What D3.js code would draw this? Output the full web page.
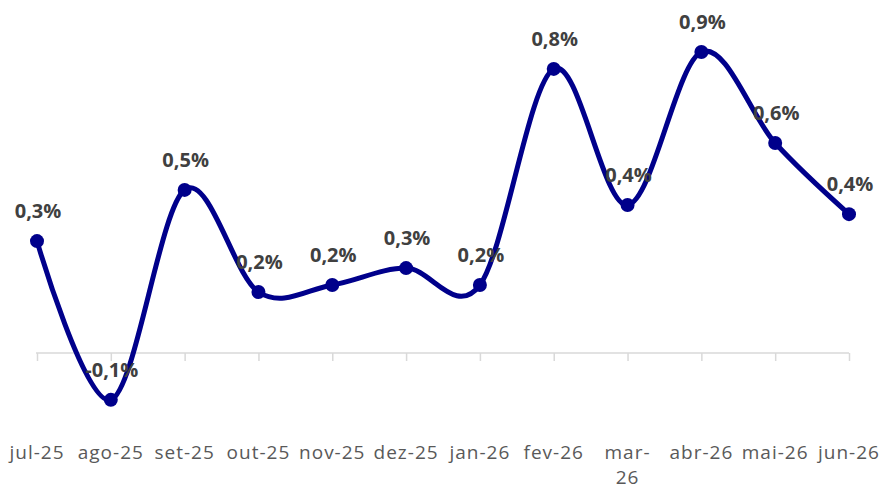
<!DOCTYPE html>
<html>
<head>
<meta charset="utf-8">
<script src="https://cdn.jsdelivr.net/npm/d3@7"></script>
<style>
  html, body { margin: 0; padding: 0; background: #fff; }
  #chart { width: 884px; height: 489px; }
</style>
</head>
<body>
<div id="chart"></div>
<script>
(function(){
  // Monthly variation (in %).
  const months = ['jul-25', 'ago-25', 'set-25', 'out-25', 'nov-25', 'dez-25',
                  'jan-26', 'fev-26', 'mar-26', 'abr-26', 'mai-26', 'jun-26'];
  const values = [0.332, -0.139, 0.484, 0.181, 0.202, 0.252,
                  0.202, 0.843, 0.439, 0.893, 0.623, 0.412];

  const data = months.map((m, i) => ({month: m, value: values[i]}));

  const width = 884, height = 489;
  const svg = d3.select('#chart').append('svg')
    .attr('width', width).attr('height', height);

  // Portuguese style numbers: comma decimal, plain hyphen for minus.
  const locale = d3.formatLocale({decimal: ',', thousands: '.', grouping: [3], currency: ['', ''], minus: '-'});
  const fmt = v => locale.format('.1f')(v) + '%';

  const x = d3.scalePoint().domain(months).range([37, 849]);
  const y = d3.scaleLinear().domain([-0.2, 1.0]).range([420.4, 16]);

  // Category axis crossing at zero.
  const axis = d3.axisBottom(x).tickSize(8).tickSizeOuter(0).tickFormat('');
  const gx = svg.append('g')
    .attr('transform', `translate(0,${y(0)})`)
    .call(axis);
  gx.select('.domain').attr('stroke', '#d9d9d9').attr('stroke-width', 1.5)
    .attr('d', `M${x(months[0]) - 1},0H${x(months[months.length - 1])}`);
  gx.selectAll('.tick line').attr('stroke', '#d9d9d9').attr('stroke-width', 1.5);

  // Month labels below the chart, wrapping the widest at the hyphen.
  const labels = svg.append('g')
    .attr('font-family', 'Open Sans, sans-serif')
    .attr('font-size', 19)
    .attr('letter-spacing', 1)
    .attr('fill', '#595959');
  labels.selectAll('text')
    .data(months)
    .join('text')
    .attr('x', d => x(d))
    .attr('y', 459)
    .attr('text-anchor', 'middle')
    .text(d => d)
    .each(function(d){
      const t = d3.select(this);
      if(this.getComputedTextLength() > 68){
        const parts = d.split('-');
        t.text(null);
        t.append('tspan').attr('x', x(d)).attr('dy', 0).text(parts[0] + '-');
        t.append('tspan').attr('x', x(d)).attr('dy', 25).text(parts[1]);
      }
    });

  // Smoothed line like Excel's "smooth line".
  const line = d3.line()
    .x(d => x(d.month))
    .y(d => y(d.value))
    .curve(d3.curveCardinal.tension(0));

  svg.append('path')
    .datum(data)
    .attr('fill', 'none')
    .attr('stroke', '#00008b')
    .attr('stroke-width', 5)
    .attr('stroke-linejoin', 'round')
    .attr('d', line);

  svg.append('g').selectAll('circle')
    .data(data)
    .join('circle')
    .attr('cx', d => x(d.month))
    .attr('cy', d => y(d.value))
    .attr('r', 7)
    .attr('fill', '#00008b');

  // Data labels above each point.
  svg.append('g')
    .attr('font-family', 'Open Sans, sans-serif')
    .attr('font-weight', 'bold')
    .attr('font-size', 20)
    .attr('fill', '#404040')
    .selectAll('text')
    .data(data)
    .join('text')
    .attr('x', d => x(d.month) + 1)
    .attr('y', d => y(d.value) - 23)
    .attr('text-anchor', 'middle')
    .text(d => fmt(d.value));
})();
</script>
</body>
</html>
